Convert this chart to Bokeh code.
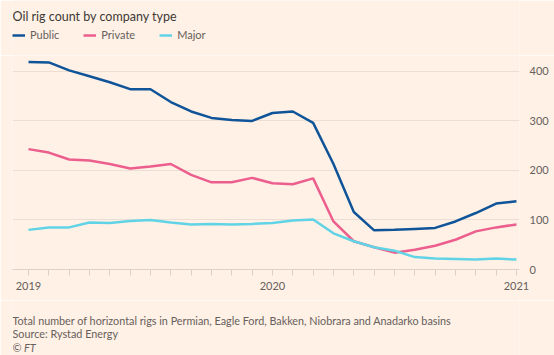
from bokeh.plotting import figure
from bokeh.layouts import column
from bokeh.models import Legend, LegendItem, FixedTicker, Label, Range1d
from bokeh.embed import file_html
from bokeh.resources import INLINE

months = ["2019-01", "2019-02", "2019-03", "2019-04", "2019-05", "2019-06", "2019-07",
          "2019-08", "2019-09", "2019-10", "2019-11", "2019-12", "2020-01", "2020-02",
          "2020-03", "2020-04", "2020-05", "2020-06", "2020-07", "2020-08", "2020-09",
          "2020-10", "2020-11", "2020-12", "2021-01"]
public = [419, 418, 402, 390, 378, 364, 364, 338, 319, 306, 302, 300, 316,
          319, 296, 213, 116, 79, 80, 82, 84, 97, 114, 133, 138]
private = [243, 236, 222, 220, 213, 204, 208, 213, 191, 176, 176, 185, 174,
           172, 184, 97, 57, 45, 34, 40, 48, 60, 77, 85, 91]
major = [80, 85, 85, 95, 94, 98, 100, 95, 91, 92, 91, 92, 94,
         99, 101, 73, 57, 45, 38, 25, 22, 21, 20, 22, 20]
series_names = ["Public", "Private", "Major"]
series_colors = ["#0F5499", "#EB5E8D", "#61D3E6"]
year_labels = {0: "2019", 12: "2020", 24: "2021"}
y_ticks = [0, 100, 200, 300, 400]
title_text = "Oil rig count by company type"
footer_lines = ["Total number of horizontal rigs in Permian, Eagle Ford, Bakken, Niobrara and Anadarko basins",
                "Source: Rystad Energy"]
credit = "\u00a9 FT"

x = list(range(len(months)))
series = [public, private, major]

BG = "#FFF1E5"
TXT = "#66605C"
FONT = "Lato"
W = 554
LEFT = 12
RIGHT = 35
X_RANGE = (-0.787, 24.15)


def blank_fig(h):
    f = figure(width=W, height=h, output_backend="svg", toolbar_location=None,
               x_axis_type=None, y_axis_type=None,
               x_range=Range1d(*X_RANGE), y_range=Range1d(1000, 1001),
               min_border_left=LEFT, min_border_right=RIGHT,
               min_border_top=0, min_border_bottom=0)
    f.background_fill_color = BG
    f.border_fill_color = BG
    f.outline_line_color = None
    f.title = None
    return f


# ---- header: title + legend ----
head = blank_fig(55)
head.add_layout(Label(x=0, y=39, x_units="screen", y_units="screen", text=title_text,
                      text_font=FONT, text_font_size="12.5px", text_color="#3D3936",
                      text_baseline="alphabetic"))
# series drawn again here (outside the visible y range) only to feed the legend keys
key_renderers = [head.line(x, v, line_color=c, line_width=2.5) for v, c in zip(series, series_colors)]
legend = Legend(items=[LegendItem(label=n, renderers=[r]) for n, r in zip(series_names, key_renderers)],
                orientation="horizontal", location=(0, 14),
                border_line_alpha=0, background_fill_alpha=0,
                label_text_font=FONT, label_text_font_size="11px", label_text_color=TXT,
                glyph_width=13, glyph_height=12, label_standoff=5, spacing=24,
                padding=0, margin=0)
head.add_layout(legend, "center")

# ---- main chart ----
p = figure(width=W, height=245, output_backend="svg", toolbar_location=None,
           x_range=Range1d(*X_RANGE), y_range=Range1d(0, 432),
           y_axis_location="right",
           min_border_left=LEFT, min_border_right=RIGHT, min_border_top=0, min_border_bottom=31)
p.background_fill_color = BG
p.border_fill_color = BG
p.outline_line_color = None
p.title = None

for vals, c in zip(series, series_colors):
    p.line(x, vals, line_color=c, line_width=2.5)

p.yaxis.ticker = FixedTicker(ticks=y_ticks)
p.yaxis.axis_line_color = None
p.yaxis.major_tick_line_color = None
p.yaxis.minor_tick_line_color = None
p.yaxis.major_label_text_font = FONT
p.yaxis.major_label_text_font_size = "11px"
p.yaxis.major_label_text_color = TXT
p.yaxis.major_label_text_align = "right"
p.yaxis.major_label_standoff = 4

p.xaxis.ticker = FixedTicker(ticks=x)
p.xaxis.major_label_overrides = {i: year_labels.get(i, "") for i in x}
p.xaxis.axis_line_color = "#DDD1C6"
p.xaxis.major_tick_line_color = "#DDD1C6"
p.xaxis.major_tick_in = 0
p.xaxis.major_tick_out = 6
p.xaxis.minor_tick_line_color = None
p.xaxis.major_label_text_font = FONT
p.xaxis.major_label_text_font_size = "11px"
p.xaxis.major_label_text_color = TXT
p.xaxis.major_label_standoff = 6

p.xgrid.visible = False
p.ygrid.ticker = FixedTicker(ticks=y_ticks)
p.ygrid.grid_line_color = "#EBDFD5"

# ---- footer ----
foot = blank_fig(55)
for i, line in enumerate(footer_lines):
    foot.add_layout(Label(x=0, y=35 - 13 * i, x_units="screen", y_units="screen", text=line,
                          text_font=FONT, text_font_size="10.8px", text_color=TXT,
                          text_baseline="alphabetic"))
foot.add_layout(Label(x=0, y=8, x_units="screen", y_units="screen", text=credit,
                      text_font=FONT, text_font_size="10.8px", text_color=TXT,
                      text_font_style="italic", text_baseline="alphabetic"))

page = column(head, p, foot, spacing=0)
open("out.html", "w").write(file_html(page, INLINE))
